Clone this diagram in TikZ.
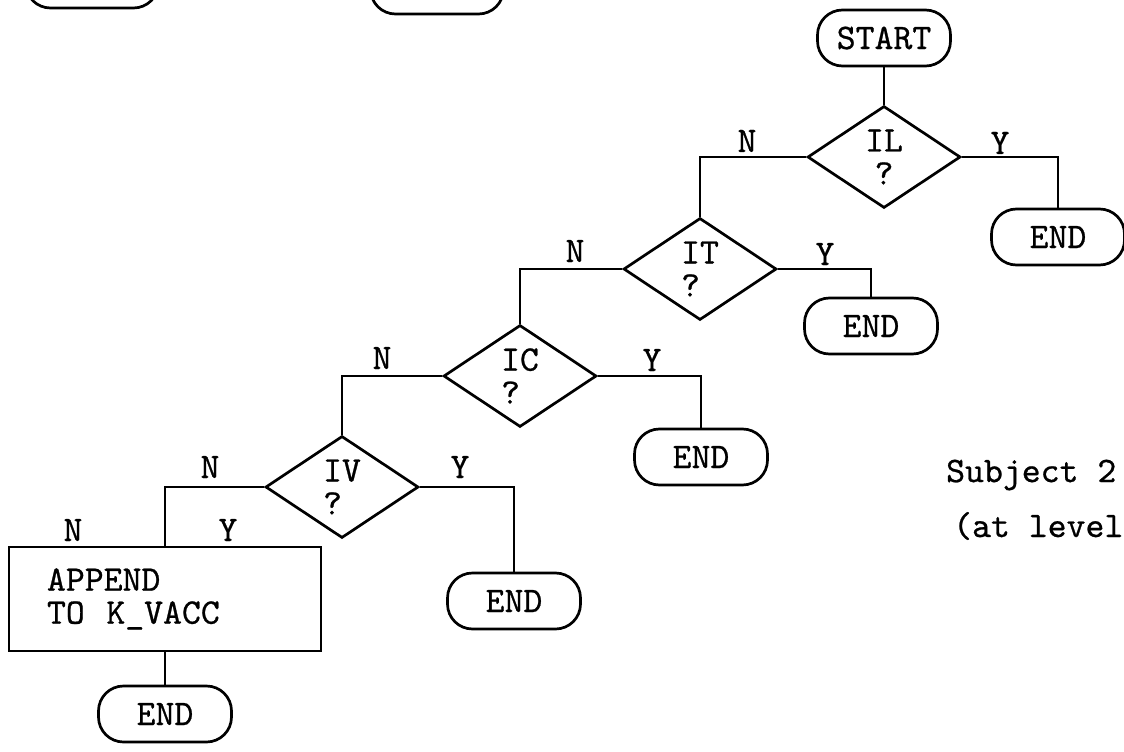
\documentclass[tikz,border=0pt]{standalone}
\usepackage{fontspec}
\newfontfamily\typer{lmmono10-regular.otf}[FakeBold=0.7]
\usetikzlibrary{shapes.geometric}
\begin{document}
\begin{tikzpicture}[x=1pt,y=-1pt,
  every node/.style={font=\typer\fontsize{36}{33}\selectfont, inner sep=0pt},
  term/.style={draw, rounded corners=25pt, minimum width=133pt, minimum height=56pt, line width=2.7pt},
  test/.style={draw, diamond, minimum width=153pt, minimum height=102pt, line width=2.7pt},
  proc/.style={draw, rectangle, minimum width=312pt, minimum height=104pt, line width=2.7pt},
  flow/.style={line width=2.7pt},
  tag/.style={}
]
\useasboundingbox (0,0) rectangle (1124,752);
\clip (0,0) rectangle (1124,752);

% terminals of the neighbouring chart, cut by the page edge
\node[term, minimum height=42pt] (topA) at (92,-13) {END};
\node[term] (topB) at (437,-14) {};

% decision chain
\node[term] (start) at (884,38) {START};
\node[test, align=center] (il) at (884,157) {IL\\?};
\node[term] (endA) at (1058,237) {END};

\node[test, align=left] (it) at (700,269) {IT\\?};
\node[term] (endB) at (871,326) {END};

\node[test, align=left] (ic) at (520,376) {IC\\?};
\node[term] (endC) at (701,457) {END};

\node[test, align=left] (iv) at (342,487) {IV\\?};
\node[term] (endD) at (514,601) {END};

\node[proc, align=left, text width=236pt] (app) at (165,599) {APPEND\\TO\hspace{0.6em}K\_VACC};
\node[term] (endE) at (165,714) {END};

% connectors
\draw[flow] (start) -- (il);
\draw[flow] (il.west) -| (it.north);
\draw[flow] (il.east) -| (endA.north);
\draw[flow] (it.west) -| (ic.north);
\draw[flow] (it.east) -| (endB.north);
\draw[flow] (ic.west) -| (iv.north);
\draw[flow] (ic.east) -| (endC.north);
\draw[flow] (iv.west) -| (app.north);
\draw[flow] (iv.east) -| (endD.north);
\draw[flow] (app) -- (endE);

% branch labels
\node[tag] (nIL) at (747,141) {N};
\node[tag] (yIL) at (1000,143) {Y};
\node[tag] (nIT) at (575,251) {N};
\node[tag] (yIT) at (825,254) {Y};
\node[tag] (nIC) at (382,358) {N};
\node[tag] (yIC) at (652,360) {Y};
\node[tag] (nIV) at (210,467) {N};
\node[tag] (yIV) at (460,467) {Y};
\node[tag] (nAP) at (73,530) {N};
\node[tag] (yAP) at (228,530) {Y};

% caption
\node[anchor=west] (subj) at (946,475) {Subject 2};
\node[anchor=west] (lev) at (953,526) {(at level};
\end{tikzpicture}
\end{document}
